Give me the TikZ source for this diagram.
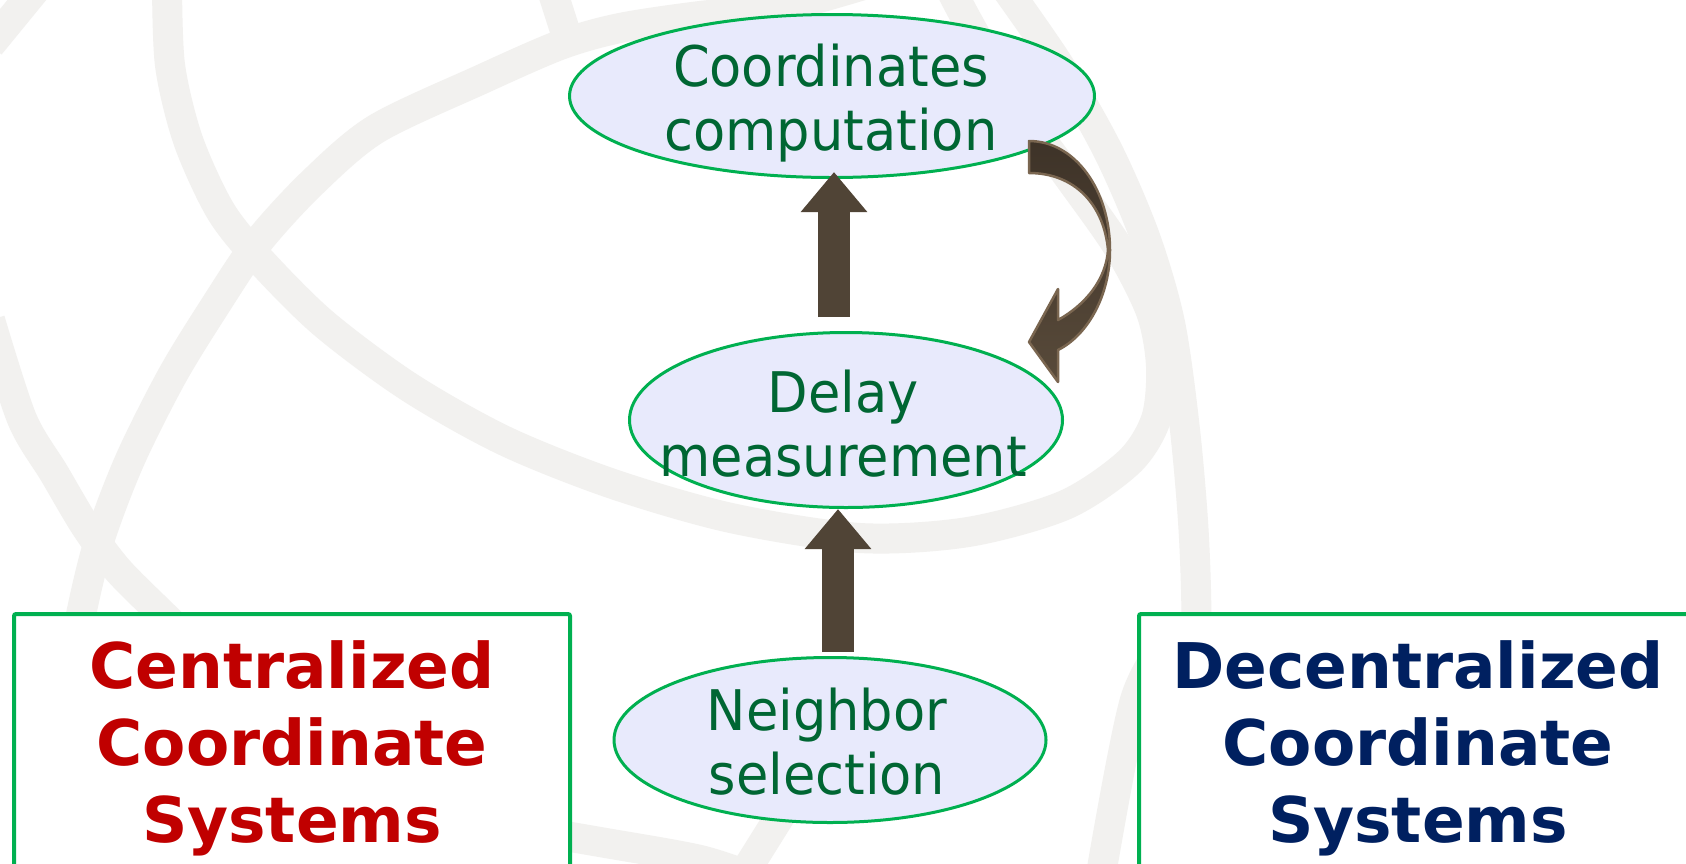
\documentclass[tikz,border=0pt]{standalone}
\usepackage{fontspec}
\setmainfont{DejaVu Sans}
\newfontfamily\ellfont[FakeStretch=0.94]{DejaVu Sans}
\usetikzlibrary{arrows.meta,shapes.geometric,calc}
\definecolor{bandgray}{RGB}{242,241,239}
\definecolor{ellfill}{RGB}{232,234,252}
\definecolor{ellline}{RGB}{0,176,80}
\definecolor{elltext}{RGB}{0,102,51}
\definecolor{arrowbrown}{RGB}{80,68,54}
\definecolor{curvetop}{RGB}{62,51,40}
\definecolor{curvebot}{RGB}{88,74,58}
\definecolor{curveline}{RGB}{122,102,80}
\definecolor{redtext}{RGB}{192,0,0}
\definecolor{navytext}{RGB}{0,32,96}
\begin{document}
\begin{tikzpicture}[x=1pt,y=-1pt,
  band/.style={draw=bandgray,line width=30pt},
  ell/.style={ellipse,draw=ellline,line width=3pt,fill=ellfill,inner sep=0pt},
  elltxt/.style={font=\ellfont\fontsize{56}{64}\selectfont,text=elltext,align=center,inner sep=0pt},
  sysbox/.style={draw=ellline,line width=4pt,fill=white,rounded corners=2pt,align=center,inner sep=0pt,font=\bfseries\fontsize{63}{77}\selectfont},
  bigarrow/.style={draw=arrowbrown,line width=32pt,-{Triangle[width=64pt,length=40pt]}},
  curvearrow/.style={draw=curveline,line width=2.5pt,line join=round,top color=curvetop,bottom color=curvebot}]
\useasboundingbox (0,0) rectangle (1686,863);
\clip (0,0) rectangle (1686,863);
\fill[white] (0,0) rectangle (1686,863);
% background decoration
\draw[band] plot[smooth] coordinates {(167,-20) (170,65) (188,140) (220,210) (258,258) (323,323) (409,387) (505,441) (613,484) (731,518) (860,538) (968,532) (1065,505) (1129,462) (1156,419) (1161,366) (1151,312) (1118,247) (1065,172) (1011,97) (968,22) (946,-20)};
\draw[band] plot[smooth] coordinates {(1000,-20) (1059,65) (1108,151) (1145,237) (1170,323) (1185,430) (1194,538) (1196,645) (1185,753) (1172,880)};
\draw[band] plot[smooth] coordinates {(880,-20) (780,8) (700,16) (620,28) (560,45) (480,80) (376,129) (312,183) (258,242) (215,306) (172,376) (129,462) (97,548) (75,645) (59,753) (48,880)};
\draw[band] (552,-10) -- (568,40);
\draw[band] plot[smooth] coordinates {(-10,320) (22,419) (54,473) (86,527) (118,570) (161,613) (194,645)};
\draw[band] (-10,45) -- (35,-10);
\draw[band] plot[smooth] coordinates {(500,825) (600,842) (700,860) (760,880)};
\draw[band] (740,880) -- (790,800);
\draw[band] plot[smooth] coordinates {(1175,630) (1135,700) (1100,880)};
% side boxes
\node[sysbox,text=redtext,minimum width=556pt,minimum height=269pt] (cbox) at (292,748.5) {Centralized\\Coordinate\\Systems};
\node[sysbox,text=navytext,minimum width=558pt,minimum height=269pt] (dbox) at (1418,748.5) {Decentralized\\Coordinate\\Systems};
% ellipses
\node[ell,minimum width=525pt,minimum height=163pt] (e1) at (832,96) {};
\node[ell,minimum width=433pt,minimum height=175pt] (e2) at (846,420) {};
\node[ell,minimum width=432pt,minimum height=165pt] (e3) at (830,740) {};
\node[elltxt] (t1) at (831,103.3) {Coordinates\\computation};
\node[elltxt] (t2) at (843,423.2) {Delay\\measurement};
\node[elltxt] (t3) at (827,741.2) {Neighbor\\selection};
% straight arrows
\draw[bigarrow] ($(e2.north)+(-12,-14)$) -- ($(e1.south)+(2,-7)$);
\draw[bigarrow] ($(e3.north)+(8,-4)$) -- ($(e2.south)+(-8,0)$);
% curved arrow
\path[curvearrow] (1029,141) .. controls (1075,141) and (1110,190) .. (1110,250)
  .. controls (1110,295) and (1088,335) .. (1058,350)
  -- (1058,382) -- (1029,342) -- (1058,289) -- (1058,320)
  .. controls (1085,305) and (1106,280) .. (1108,250)
  .. controls (1104,205) and (1075,173) .. (1029,173) -- cycle;
\end{tikzpicture}
\end{document}
